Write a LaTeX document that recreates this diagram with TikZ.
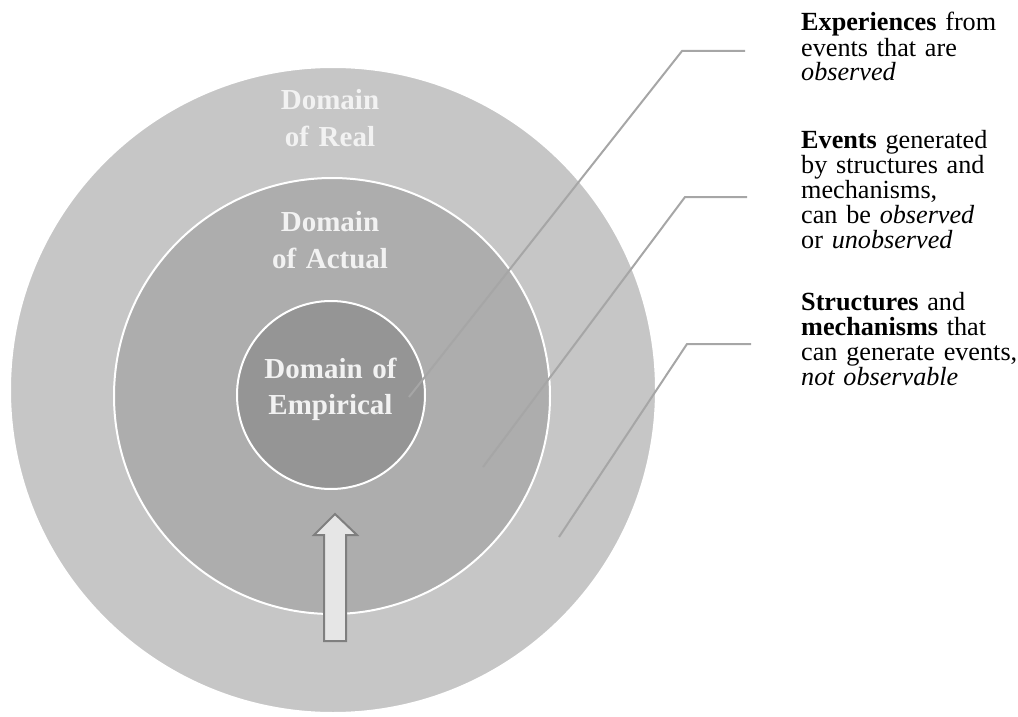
\documentclass[tikz,border=0pt]{standalone}
\usepackage{fontspec}
\setmainfont{Liberation Serif}
\usepackage{xcolor}
\usetikzlibrary{positioning}

\definecolor{realgray}{HTML}{C6C6C6}
\definecolor{actualgray}{HTML}{ADADAD}
\definecolor{empgray}{HTML}{959595}
\definecolor{leadgray}{HTML}{A6A6A6}
\definecolor{arrowfill}{HTML}{E6E6E6}
\definecolor{arrowline}{HTML}{7F7F7F}

\begin{document}
\begin{tikzpicture}[
    x=1pt, y=-1pt,
    domain/.style={circle, fill=#1, draw=white, line width=2pt, inner sep=0pt},
    domlabel/.style={anchor=base, text width=200pt, align=center, inner sep=0pt, text=white!95!black, font=\fontsize{29}{36.7}\selectfont\bfseries},
    desc/.style={anchor=base west, text width=240pt, align=left, inner sep=0pt, font=\fontsize{26.2}{25}\selectfont},
    leader/.style={draw=leadgray, line width=2pt},
    uparrow/.style={fill=arrowfill, draw=arrowline, line width=2pt}
]
\useasboundingbox (0,0) rectangle (1018,717);

% Nested domains
\node[domain=realgray, minimum size=646pt] (real) at (333,390) {};
\node[domain=actualgray, minimum size=436pt] (actual) at (332,396) {};
\node[domain=empgray, minimum size=188pt] (empirical) at (331,395) {};

% Domain labels
\node[domlabel] (reallbl) at (330,110) {Domain\\of Real};
\node[domlabel] (actuallbl) at (330,231.7) {Domain\\of Actual};
\node[domlabel] (emplbl) at (330.5,378) {Domain of\\Empirical};

% Arrow from the real up to the empirical
\draw[uparrow] (324,641) -- (324,535) -- (314,535) -- (335,514) -- (357,535)
    -- (346,535) -- (346,641) -- cycle;

% Descriptions
\node[desc] (expdesc) at (801,31) {\textbf{Experiences} from\\events that are\\\textit{observed}};
\node[desc] (evdesc) at (801,148.3) {\textbf{Events} generated\\by structures and\\mechanisms,\\can be \textit{observed}\\or \textit{unobserved}};
\node[desc] (strdesc) at (801,310) {\textbf{Structures} and\\\textbf{mechanisms} that\\can generate events,\\\textit{not observable}};

% Leader lines
\coordinate (l1a) at (745,51);
\coordinate (l1b) at (682,51);
\coordinate (l1c) at (409,397);
\coordinate (l2a) at (747,197);
\coordinate (l2b) at (685,197);
\coordinate (l2c) at (483,467);
\coordinate (l3a) at (751,344);
\coordinate (l3b) at (687,344);
\coordinate (l3c) at (559,537);
\draw[leader] (l1a) -- (l1b) -- (l1c);
\draw[leader] (l2a) -- (l2b) -- (l2c);
\draw[leader] (l3a) -- (l3b) -- (l3c);
\end{tikzpicture}
\end{document}
